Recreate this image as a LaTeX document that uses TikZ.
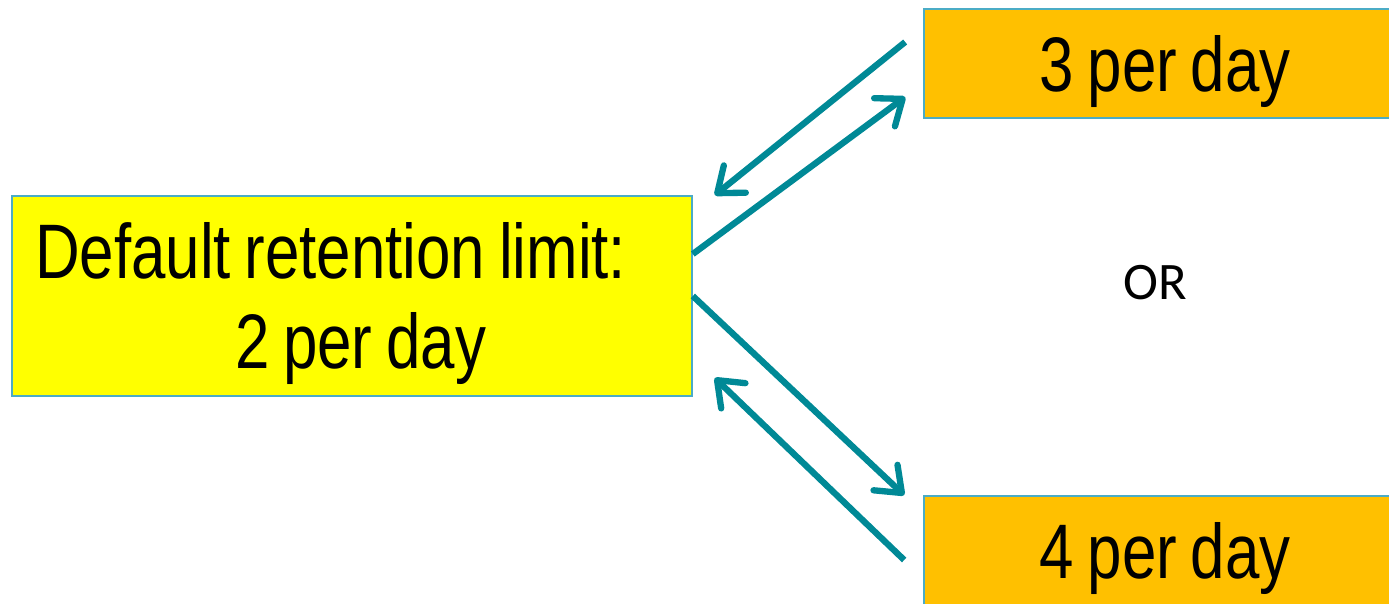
\documentclass[tikz,border=0pt]{standalone}
\usepackage{fontspec}
\setmainfont{Liberation Sans}
\newfontfamily\narrowfont[FakeStretch=0.8, WordSpace=0.8]{Liberation Sans}
\newfontfamily\orfont{Carlito}
\usetikzlibrary{arrows.meta}
\definecolor{arrowteal}{RGB}{0,137,150}
\definecolor{boxedge}{RGB}{75,172,198}
\definecolor{limityellow}{RGB}{255,255,0}
\definecolor{optionorange}{RGB}{255,192,0}

\begin{document}
\begin{tikzpicture}[x=0.02cm, y=-0.02cm,
		box/.style={draw=boxedge, line width=1pt, inner sep=0pt, font=\narrowfont\fontsize{44}{51}\selectfont},
		option/.style={box, fill=optionorange, text depth=0pt, minimum width=9.64cm, minimum height=2.18cm},
		link/.style={draw=arrowteal, line width=3.6pt, -{Straight Barb[length=4.5mm, width=7mm, round]}}]
		\useasboundingbox (0,0) rectangle (1389,603);
		\clip (0,0) rectangle (1389,603);
		\node[box, fill=limityellow, text width=12.68cm, inner xsep=0.46cm, minimum height=4cm, align=left] (limit) at (352,296) {\spaceskip=0pt\relax\rule{0pt}{1.41cm}Default retention limit:\\\hspace*{4cm}2 per day};
		\node[option] (three) at (1165,63.5) {3 per day};
		\node[option] (four) at (1165,550.5) {4 per day};
		\node[font=\orfont\fontsize{30}{34}\selectfont] (either) at (1155,283) {OR};
		\draw[link] ([xshift=-0.36cm, yshift=0.43cm]three.west) -- ([xshift=0.44cm]limit.north east);
		\draw[link] ([yshift=0.84cm]limit.east) -- ([xshift=-0.36cm, yshift=-0.67cm]three.west);
		\draw[link] (limit.east) -- ([xshift=-0.38cm]four.north west);
		\draw[link] ([xshift=-0.38cm, yshift=-0.19cm]four.west) -- ([xshift=0.44cm, yshift=-1.64cm]limit.east);
	\end{tikzpicture}
\end{document}
